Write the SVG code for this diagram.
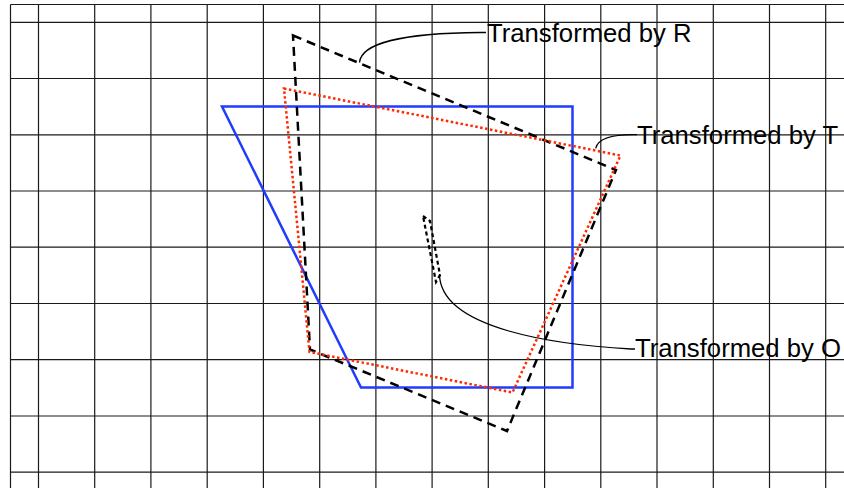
<svg xmlns="http://www.w3.org/2000/svg" width="844" height="488" viewBox="0 0 844 488">
<style>
.grid line{stroke:#1a1a1a;stroke-width:1.2}
.poly{fill:none;stroke-width:2.5;stroke-linejoin:miter}
.orig{stroke:#1f3cff}
.tr{stroke:#ff2a00;stroke-dasharray:2.5,2.5}
.rr{stroke:#000;stroke-dasharray:9,6}
.oo{stroke:#000;stroke-width:2.2;stroke-dasharray:4,3}
.lead{fill:none;stroke:#000;stroke-width:1.3}
.lbl{font-family:"Liberation Sans",Arial,sans-serif;font-size:25.7px;fill:#000}
</style>
<rect width="844" height="488" fill="#fff"/>
<g id="grid" class="grid">
<line x1="10.5" y1="4.5" x2="844" y2="4.5"/>
<line x1="10.5" y1="4.5" x2="10.5" y2="488"/>
<line x1="38.5" y1="4.5" x2="38.5" y2="488"/>
<line x1="94.7" y1="4.5" x2="94.7" y2="488"/>
<line x1="150.9" y1="4.5" x2="150.9" y2="488"/>
<line x1="207.2" y1="4.5" x2="207.2" y2="488"/>
<line x1="263.4" y1="4.5" x2="263.4" y2="488"/>
<line x1="319.7" y1="4.5" x2="319.7" y2="488"/>
<line x1="375.9" y1="4.5" x2="375.9" y2="488"/>
<line x1="432.1" y1="4.5" x2="432.1" y2="488"/>
<line x1="488.3" y1="4.5" x2="488.3" y2="488"/>
<line x1="544.6" y1="4.5" x2="544.6" y2="488"/>
<line x1="600.8" y1="4.5" x2="600.8" y2="488"/>
<line x1="657" y1="4.5" x2="657" y2="488"/>
<line x1="713.3" y1="4.5" x2="713.3" y2="488"/>
<line x1="769.5" y1="4.5" x2="769.5" y2="488"/>
<line x1="825.7" y1="4.5" x2="825.7" y2="488"/>
<line x1="10.5" y1="22.3" x2="844" y2="22.3"/>
<line x1="10.5" y1="78.5" x2="844" y2="78.5"/>
<line x1="10.5" y1="134.8" x2="844" y2="134.8"/>
<line x1="10.5" y1="191" x2="844" y2="191"/>
<line x1="10.5" y1="247.2" x2="844" y2="247.2"/>
<line x1="10.5" y1="303.5" x2="844" y2="303.5"/>
<line x1="10.5" y1="359.7" x2="844" y2="359.7"/>
<line x1="10.5" y1="416" x2="844" y2="416"/>
<line x1="10.5" y1="472.2" x2="844" y2="472.2"/>
</g>
<g id="original"><polygon class="poly orig" points="222,106.5 572.5,106.5 572.5,387.5 361,387.5"/></g>
<g id="byR"><polygon class="poly rr" points="293,35.5 616,170 507,431 310,349.5"/></g>
<g id="byT"><polygon class="poly tr" points="284,88.5 620.5,155.5 512.5,392.5 309.5,352"/></g>
<g id="byO"><polygon class="poly oo" points="423,216 430,221 440,275 436,282"/></g>
<g id="connectors">
<path class="lead" d="M359.5,62.5 C361,44 400,33 480,32.5 L486,32.5"/>
<path class="lead" d="M595.7,148.3 C598,139 610,134.7 633,134.7 L637,134.7"/>
<path class="lead" d="M439.5,274 C440,330 560,345 631,349 L635,349"/>
</g>
<g id="labelR"><text class="lbl" x="487" y="42">Transformed by R</text></g>
<g id="labelT"><text class="lbl" x="637" y="143.5">Transformed by T</text></g>
<g id="labelO"><text class="lbl" x="635" y="357">Transformed by O</text></g>
</svg>
